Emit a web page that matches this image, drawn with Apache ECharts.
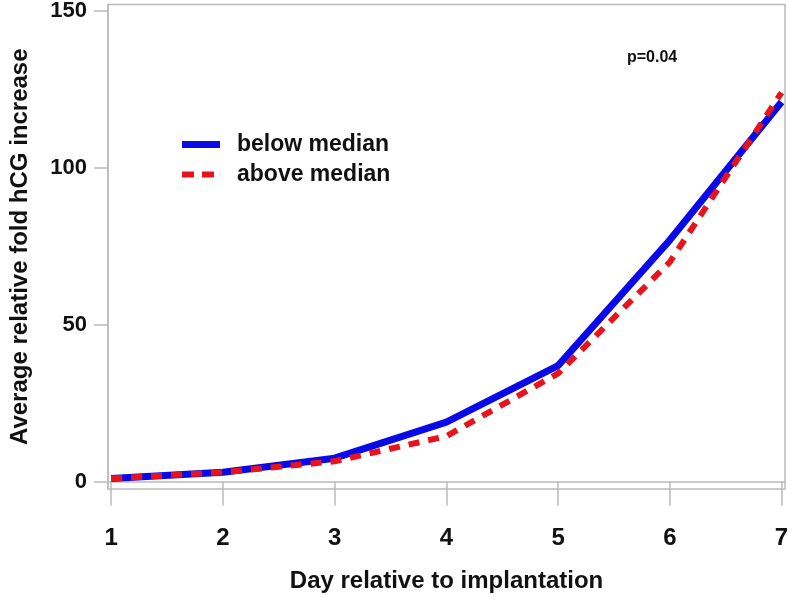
<!DOCTYPE html>
<html>
<head>
<meta charset="utf-8">
<script src="https://cdn.jsdelivr.net/npm/echarts@6/dist/echarts.min.js"></script>
<style>html,body{margin:0;padding:0;background:#fff;}#c{width:800px;height:605px;}</style>
</head>
<body>
<div id="c"></div>
<script>
const days = [1, 2, 3, 4, 5, 6, 7];
const belowMedian = [1, 3, 7.5, 19, 37, 77, 121];
const aboveMedian = [1, 3, 6.5, 14.5, 34.5, 70, 124];
const xTicks = [1, 2, 3, 4, 5, 6, 7];
const yTicks = [0, 50, 100, 150];

const FONT = "'Liberation Sans', Arial, sans-serif";
const chart = echarts.init(document.getElementById('c'));
chart.setOption({
  animation: false,
  backgroundColor: '#fff',
  title: {
    text: 'p=0.04', left: 622, top: 45,
    textStyle: { fontFamily: FONT, fontWeight: 'bold', fontSize: 16, color: '#111' }
  },
  legend: {
    orient: 'vertical', left: 177, top: 128, itemWidth: 38, itemHeight: 24, itemGap: 7,
    textStyle: { fontFamily: FONT, fontWeight: 'bold', fontSize: 23, color: '#111', padding: [0, 0, 0, 12] },
    data: [
      { name: 'below median', icon: 'path://M0,0H38V7H0Z', itemStyle: { color: '#0a0ae8' } },
      { name: 'above median', icon: 'path://M0,0H12V6H0Z M20,0H32V6H20Z M37.9,0H38V6H37.9Z', itemStyle: { color: '#e8141c' } }
    ]
  },
  grid: { left: 104.5, right: 15, top: 4.5, bottom: 116, show: true, borderColor: '#bbb', borderWidth: 1.5 },
  xAxis: {
    type: 'value', min: 0.9715, max: 7.031,
    name: 'Day relative to implantation', nameLocation: 'middle', nameGap: 80,
    nameTextStyle: { fontFamily: FONT, fontWeight: 'bold', fontSize: 24, color: '#111' },
    axisLine: { lineStyle: { color: '#bbb', width: 1.5 } },
    axisTick: { show: true, length: 24, customValues: xTicks, lineStyle: { color: '#bbb', width: 1.5 } },
    axisLabel: { customValues: xTicks, margin: 37, fontFamily: FONT, fontWeight: 'bold', fontSize: 24, color: '#111' },
    splitLine: { show: false }
  },
  yAxis: {
    type: 'value', min: -2.33, max: 152.07,
    name: 'Average relative fold hCG increase', nameLocation: 'middle', nameGap: 76, nameRotate: 90,
    nameTextStyle: { fontFamily: FONT, fontWeight: 'bold', fontSize: 24, color: '#111' },
    axisLine: { show: true, lineStyle: { color: '#bbb', width: 1.5 } },
    axisTick: { show: true, length: 14, customValues: yTicks, lineStyle: { color: '#bbb', width: 1.5 } },
    axisLabel: { customValues: yTicks, margin: 21, fontFamily: FONT, fontWeight: 'bold', fontSize: 22, color: '#111' },
    splitLine: { show: false }
  },
  series: [
    {
      name: 'below median', type: 'line', symbol: 'none',
      data: days.map((d, i) => [d, belowMedian[i]]),
      lineStyle: { color: '#0a0ae8', width: 7 }, itemStyle: { color: '#0a0ae8' }
    },
    {
      name: 'above median', type: 'line', symbol: 'none',
      data: days.map((d, i) => [d, aboveMedian[i]]),
      lineStyle: { color: '#e8141c', width: 6, type: [11, 9] }, itemStyle: { color: '#e8141c' }
    }
  ]
});
</script>
</body>
</html>
